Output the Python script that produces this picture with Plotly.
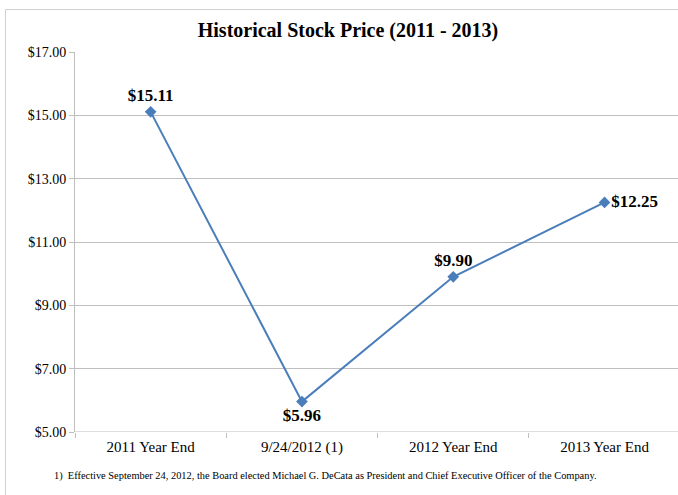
import plotly.graph_objects as go

categories = ["2011 Year End", "9/24/2012 (1)", "2012 Year End", "2013 Year End"]
prices = [15.11, 5.96, 9.90, 12.25]
label_positions = ["top center", "bottom center", "top center", "middle right"]
y_ticks = [5, 7, 9, 11, 13, 15, 17]
y_tick_labels = ["$5.00", "$7.00", "$9.00", "$11.00", "$13.00", "$15.00", "$17.00"]

W, H = 678, 495
L, R, T, B = 75, 0, 52, 63
plot_w = W - L - R
plot_h = H - T - B
band = 151.3

serif = "Liberation Serif, Times New Roman, serif"
line_color = "#4a7ebb"
grid_color = "#bfbfbf"

fig = go.Figure()
fig.add_trace(go.Scatter(
    x=categories, y=prices, mode="lines+markers+text",
    line=dict(color=line_color, width=2),
    marker=dict(symbol="diamond", size=9, color=line_color),
    text=[f"<b>${v:.2f}</b>" for v in prices],
    textposition=label_positions,
    textfont=dict(family=serif, size=17, color="#000000"),
    cliponaxis=False,
    hoverinfo="skip",
))

def px_to_paper_x(px):
    return (px - L) / plot_w

def px_to_paper_y(py):
    return (H - B - py) / plot_h

fig.update_layout(
    width=W, height=H,
    margin=dict(l=L, r=R, t=T, b=B),
    paper_bgcolor="white", plot_bgcolor="white",
    showlegend=False,
    title=dict(text="<b>Historical Stock Price (2011 - 2013)</b>",
               font=dict(family=serif, size=20, color="#000000"),
               x=px_to_paper_x(348), xref="paper", xanchor="center",
               y=1 - 30 / H, yanchor="middle"),
    xaxis=dict(type="category", range=[-0.5, -0.5 + plot_w / band],
               showgrid=False, showline=False, zeroline=False,
               ticks="outside", tickson="boundaries", ticklen=5,
               tickcolor=grid_color, ticklabelstandoff=4,
               tickfont=dict(family=serif, size=15, color="#000000")),
    yaxis=dict(range=[5, 17], tickvals=y_ticks, ticktext=y_tick_labels,
               showgrid=True, gridcolor=grid_color, gridwidth=1,
               showline=True, linecolor=grid_color, linewidth=1,
               zeroline=False, ticks="outside", ticklen=5, tickcolor=grid_color,
               tickfont=dict(family=serif, size=14, color="#000000")),
)

# bottom axis line at $5
fig.add_shape(type="line", xref="paper", yref="y", x0=0, x1=1.01, y0=5, y1=5,
              line=dict(color=grid_color, width=1))

# outer chart border
fig.add_shape(type="rect", xref="paper", yref="paper",
              x0=px_to_paper_x(5.5), x1=px_to_paper_x(700),
              y0=px_to_paper_y(500), y1=px_to_paper_y(9.5),
              line=dict(color="#d0d0d0", width=1), layer="below")

fig.add_annotation(
    text="1)  Effective September 24, 2012, the Board elected Michael G. DeCata as President and Chief Executive Officer of the Company.",
    xref="paper", yref="paper", x=px_to_paper_x(52), y=px_to_paper_y(476),
    xanchor="left", yanchor="middle", showarrow=False,
    font=dict(family=serif, size=10.4, color="#000000"))

fig.write_html("out.html", config={"displayModeBar": False},
               post_script="document.body.style.margin='0';document.body.style.overflow='hidden';")
